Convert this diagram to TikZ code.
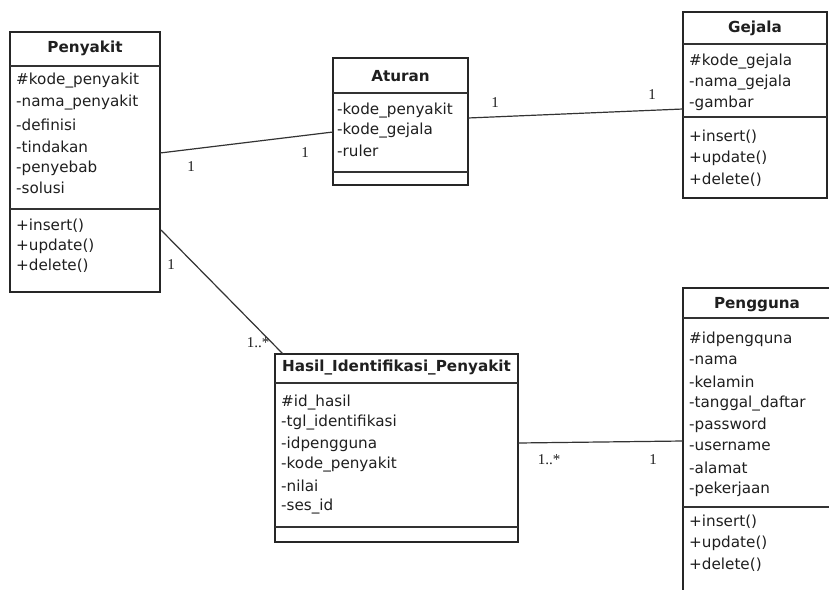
\documentclass[tikz,border=0pt]{standalone}
\usepackage{fontspec}
\setmainfont{DejaVu Sans}
\newfontfamily\multfont{Liberation Serif}
\begin{document}
\begin{tikzpicture}[x=1pt,y=-1pt,
  classbox/.style={draw=black!85,line width=1.4pt,fill=white},
  sep/.style={draw=black!80,line width=1.2pt},
  title/.style={font=\fontsize{15.2}{16}\selectfont\bfseries,text=black!88,inner sep=0pt},
  attr/.style={font=\fontsize{15.2}{16}\selectfont,text=black!88,anchor=west,inner sep=0pt},
  assoc/.style={draw=black!80,line width=1.2pt},
  mult/.style={font=\multfont\fontsize{15}{16}\selectfont,text=black!88,inner sep=0pt}]
\useasboundingbox (0,0) rectangle (829,589);
\clip (0,0) rectangle (829,589);
\fill[white] (0,0) rectangle (829,589);

% ---- Penyakit ----
\draw[classbox] (10,32) rectangle (160,292);
\draw[sep] (10,66) -- (160,66);
\draw[sep] (10,209) -- (160,209);
\node[title] (penyakit) at (85,48) {Penyakit};
\node[attr] (p1) at (16,81) {\#kode\_penyakit};
\node[attr] (p2) at (16,103) {-nama\_penyakit};
\node[attr] (p3) at (16,125) {-definisi};
\node[attr] (p4) at (16,147) {-tindakan};
\node[attr] (p5) at (16,168) {-penyebab};
\node[attr] (p6) at (16,188) {-solusi};
\node[attr] (p7) at (16,226) {+insert()};
\node[attr] (p8) at (16,246) {+update()};
\node[attr] (p9) at (16,266) {+delete()};

% ---- Aturan ----
\draw[classbox] (333,58) rectangle (468,185);
\draw[sep] (333,93) -- (468,93);
\draw[sep] (333,172) -- (468,172);
\node[title] (aturan) at (400.5,76) {Aturan};
\node[attr] (a1) at (337,111) {-kode\_penyakit};
\node[attr] (a2) at (337,131) {-kode\_gejala};
\node[attr] (a3) at (337,151) {-ruler};

% ---- Gejala ----
\draw[classbox] (683,12) rectangle (827,198);
\draw[sep] (683,44) -- (827,44);
\draw[sep] (683,117) -- (827,117);
\node[title] (gejala) at (755,28) {Gejala};
\node[attr] (g1) at (689,62) {\#kode\_gejala};
\node[attr] (g2) at (689,83) {-nama\_gejala};
\node[attr] (g3) at (689,103) {-gambar};
\node[attr] (g4) at (689,137) {+insert()};
\node[attr] (g5) at (689,158) {+update()};
\node[attr] (g6) at (689,180) {+delete()};

% ---- Hasil_Identifikasi_Penyakit ----
\draw[classbox] (275,354) rectangle (518,542);
\draw[sep] (275,383) -- (518,383);
\draw[sep] (275,527) -- (518,527);
\node[title] (hasil) at (396.5,368) {Hasil\_Identifikasi\_Penyakit};
\node[attr] (h1) at (281,403) {\#id\_hasil};
\node[attr] (h2) at (281,423) {-tgl\_identifikasi};
\node[attr] (h3) at (281,444) {-idpengguna};
\node[attr] (h4) at (281,465) {-kode\_penyakit};
\node[attr] (h5) at (281,486) {-nilai};
\node[attr] (h6) at (281,507) {-ses\_id};

% ---- Pengguna ----
\draw[classbox] (683,288) rectangle (834,600);
\draw[sep] (683,318) -- (834,318);
\draw[sep] (683,507) -- (834,507);
\node[title] (pengguna) at (757,305) {Pengguna};
\node[attr] (u1) at (689,339) {\#idpengquna};
\node[attr] (u2) at (689,360.5) {-nama};
\node[attr] (u3) at (689,382) {-kelamin};
\node[attr] (u4) at (689,403.5) {-tanggal\_daftar};
\node[attr] (u5) at (689,425) {-password};
\node[attr] (u6) at (689,446.5) {-username};
\node[attr] (u7) at (689,468) {-alamat};
\node[attr] (u8) at (689,489.5) {-pekerjaan};
\node[attr] (u9) at (689,522) {+insert()};
\node[attr] (u10) at (689,543.5) {+update()};
\node[attr] (u11) at (689,565) {+delete()};

% ---- association end points ----
\coordinate (pA) at (160,153);
\coordinate (aP) at (333,132);
\coordinate (aG) at (468,118);
\coordinate (gA) at (683,109);
\coordinate (pH) at (161,230);
\coordinate (hP) at (283,354);
\coordinate (hU) at (518,443);
\coordinate (uH) at (683,441);

\draw[assoc] (pA) -- (aP);
\draw[assoc] (aG) -- (gA);
\draw[assoc] (pH) -- (hP);
\draw[assoc] (hU) -- (uH);

% ---- multiplicities ----
\node[mult] (m1) at (191,167) {1};
\node[mult] (m2) at (305,153) {1};
\node[mult] (m3) at (495,103) {1};
\node[mult] (m4) at (652,95) {1};
\node[mult] (m5) at (171,265) {1};
\node[mult] (m6) at (258,343) {1..*};
\node[mult] (m7) at (549,460) {1..*};
\node[mult] (m8) at (653,460) {1};
\end{tikzpicture}
\end{document}
